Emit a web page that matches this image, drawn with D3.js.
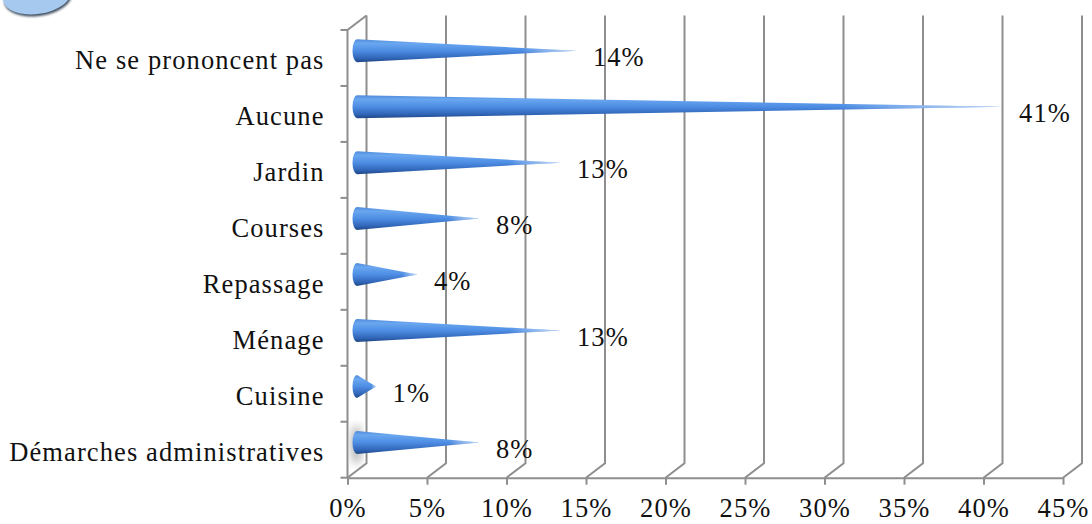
<!DOCTYPE html>
<html>
<head>
<meta charset="utf-8">
<script src="https://cdn.jsdelivr.net/npm/d3@7"></script>
<style>
  body { margin: 0; background: #fff; }
  svg { display: block; }
  text { font-family: "Liberation Serif", serif; fill: #111; letter-spacing: 1.1px; }
</style>
</head>
<body>
<svg id="chart" width="1092" height="524"></svg>
<script>
// categories from top to bottom, as in the picture
const categories = ['Ne se prononcent pas', 'Aucune', 'Jardin', 'Courses', 'Repassage', 'Ménage', 'Cuisine', 'Démarches administratives'];
const values = [13.8, 40.6, 12.8, 7.7, 3.8, 12.8, 1.2, 7.7];
const ticks = [0, 5, 10, 15, 20, 25, 30, 35, 40, 45];

const svg = d3.select('#chart');

// 3D depth of the plot box
const depth = { dx: 19, dy: -14.5 };
const fontSize = 26.5;

let x = d3.scaleLinear()
    .domain([0, 45])
    .range([347.5, 1063]);
let y = d3.scaleBand()
    .domain(categories)
    .range([30, 477.7]);

let defs = svg.append('defs');

// cone shading, light on top and dark at the bottom edge
let grad = defs.append('linearGradient')
    .attr('id', 'cone').attr('x1', 0).attr('y1', 0).attr('x2', 0).attr('y2', 1);
[[0, '#4f8ad8'], [0.18, '#6aa7f0'], [0.5, '#4d8de4'], [0.82, '#3166b8'], [1, '#1f4684']]
    .forEach(s => grad.append('stop').attr('offset', s[0]).attr('stop-color', s[1]));

let fade = defs.append('linearGradient')
    .attr('id', 'fade').attr('x1', 0).attr('y1', 0).attr('x2', 1).attr('y2', 0);
[[0, '#fff', 0], [0.75, '#fff', 0], [1, '#dbe9fb', 0.8]]
    .forEach(s => fade.append('stop').attr('offset', s[0]).attr('stop-color', s[1]).attr('stop-opacity', s[2]));

defs.append('filter').attr('id', 'blur')
    .append('feGaussianBlur').attr('stdDeviation', 4);
defs.append('filter').attr('id', 'blur2')
    .append('feGaussianBlur').attr('stdDeviation', 1.2);

// bit of a callout shape cut off at the top left
svg.append('ellipse')
    .attr('cx', 38).attr('cy', -2).attr('rx', 34).attr('ry', 18)
    .attr('transform', 'rotate(-8,38,-2)')
    .attr('fill', '#3f4d5e')
    .attr('filter', 'url(#blur2)');
svg.append('ellipse')
    .attr('cx', 37).attr('cy', -4).attr('rx', 34).attr('ry', 18)
    .attr('transform', 'rotate(-8,37,-4)')
    .attr('fill', '#a5c9ef');

let grid = svg.append('g').attr('class', 'grid')
    .attr('fill', 'none')
    .attr('stroke', '#8e8e8e')
    .attr('stroke-width', 2);

let yTop = y.range()[0];
let yBottom = y.range()[1];

// floor diagonals and back wall verticals
grid.selectAll('path.wall')
    .data(ticks)
    .join('path')
        .attr('class', 'wall')
        .attr('d', d => d3.line()([
            [x(d), yBottom],
            [x(d) + depth.dx, yBottom + depth.dy],
            [x(d) + depth.dx, yTop + depth.dy]
        ]));

// left wall: front edge and its top diagonal
grid.append('path')
    .attr('d', d3.line()([
        [x(0) + depth.dx, yTop + depth.dy],
        [x(0), yTop],
        [x(0), yBottom]
    ]));

// category boundary ticks on the left wall
let bounds = categories.map(c => y(c)).concat([yBottom]);
grid.selectAll('line.cat')
    .data(bounds)
    .join('line')
        .attr('class', 'cat')
        .attr('x1', x(0) - 7).attr('x2', x(0))
        .attr('y1', d => d).attr('y2', d => d);

// bottom axis
let xAxis = svg.append('g')
    .attr('transform', `translate(0,${yBottom})`)
    .call(d3.axisBottom(x)
        .tickValues(ticks)
        .tickFormat(d => d + '%')
        .tickSize(7)
        .tickSizeOuter(0)
        .tickPadding(13));
xAxis.select('.domain').attr('stroke', '#8e8e8e').attr('stroke-width', 2);
xAxis.selectAll('.tick line').attr('stroke', '#8e8e8e').attr('stroke-width', 2);
xAxis.selectAll('.tick text')
    .attr('font-size', fontSize)
    .attr('font-family', '"Liberation Serif", serif')
    .attr('fill', '#111');

// category labels
let yAxis = svg.append('g')
    .attr('transform', `translate(${x(0)},0)`)
    .call(d3.axisLeft(y).tickSize(0).tickPadding(23));
yAxis.select('.domain').remove();
yAxis.selectAll('.tick text')
    .attr('font-size', fontSize)
    .attr('font-family', '"Liberation Serif", serif')
    .attr('fill', '#111')
    .attr('dy', '0.42em');

// shadow behind the base of the lowest cone
let last = categories[categories.length - 1];
svg.append('ellipse')
    .attr('cx', x(0) + 9).attr('cy', y(last) + y.bandwidth() / 2 - 5)
    .attr('rx', 6).attr('ry', 20)
    .attr('fill', '#8a8a8a')
    .attr('opacity', 0.6)
    .attr('filter', 'url(#blur)');

// cones
const coneR = 11.5;
const baseRx = 4.5;
let cones = svg.append('g').attr('class', 'cones')
    .selectAll('g')
    .data(categories.map((c, i) => ({ cat: c, value: values[i] })))
    .join('g')
        .attr('transform', d => `translate(0,${y(d.cat) + y.bandwidth() / 2 + depth.dy / 2})`);

cones.append('path')
    .attr('fill', 'url(#cone)')
    .attr('d', d => {
        let x0 = x(0) + depth.dx / 2;
        let x1 = x(d.value) + depth.dx / 2;
        return `M${x0},${-coneR} L${x1},0 L${x0},${coneR} A${baseRx},${coneR} 0 0 1 ${x0},${-coneR} Z`;
    });
cones.append('path')
    .attr('fill', 'url(#fade)')
    .attr('d', d => {
        let x0 = x(0) + depth.dx / 2;
        let x1 = x(d.value) + depth.dx / 2;
        return `M${x0},${-coneR} L${x1},0 L${x0},${coneR} Z`;
    });

// value labels
svg.append('g').attr('class', 'labels')
    .selectAll('text')
    .data(categories.map((c, i) => ({ cat: c, value: values[i] })))
    .join('text')
        .attr('x', d => x(d.value) + 26)
        .attr('y', d => y(d.cat) + y.bandwidth() / 2 + 8.5)
        .attr('font-size', fontSize)
        .text(d => d3.format('.0f')(d.value) + '%');
</script>
</body>
</html>
